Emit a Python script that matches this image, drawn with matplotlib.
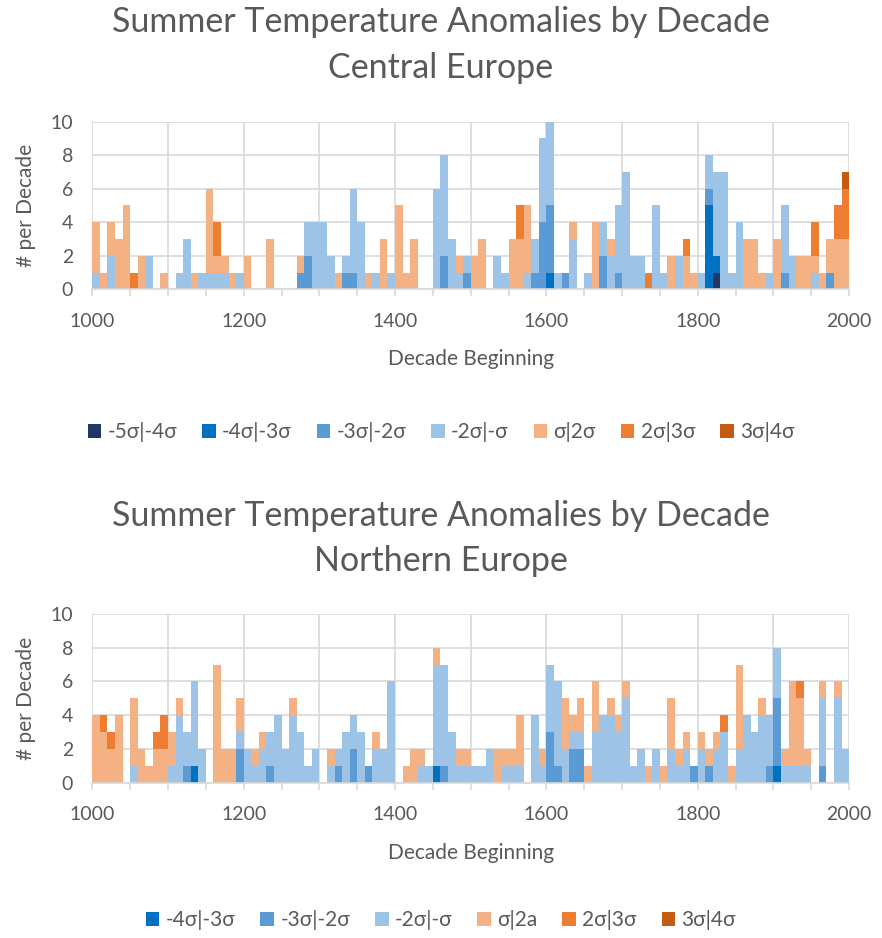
import numpy as np
import matplotlib
matplotlib.use("Agg")
import matplotlib.pyplot as plt
from matplotlib.ticker import MultipleLocator, FuncFormatter

plt.rcParams['font.family'] = ['Lato', 'DejaVu Sans']

decades = np.arange(1000, 2000, 10)

# ---- Central Europe: counts per decade, one row per century ----
c_m5 = [0]*80 + [0,0,1,0,0,0,0,0,0,0] + [0]*10
c_m4 = [0]*60 + [1,0,0,0,0,0,0,0,0,0] + [0]*10 + [0,5,1,0,0,0,0,0,0,0] + [0]*10
c_m3 = ([0]*10 + [0]*10 +
        [0,0,0,0,0,0,0,1,2,0] +
        [0,0,0,1,1,0,0,0,0,0] +
        [0,0,0,0,0,0,2,0,0,1] +
        [0,0,0,0,0,0,0,0,1,4] +
        [4,0,1,0,0,0,0,2,0,1] +
        [0]*10 +
        [0,1,0,0,0,0,0,0,0,0] +
        [0,1,0,0,0,0,0,1,0,0])
c_m2 = ([1,0,2,0,0,0,0,2,0,0] +
        [0,1,3,0,1,1,1,1,0,1] +
        [0,0,0,0,0,0,0,0,2,4] +
        [4,2,0,1,5,4,0,1,0,1] +
        [0,0,0,0,0,6,6,3,1,1] +
        [0,0,0,2,1,0,0,1,2,5] +
        [5,1,0,3,0,1,0,2,2,4] +
        [7,2,2,0,5,1,0,2,0,0] +
        [1,2,5,7,1,4,0,0,0,1] +
        [0,4,2,0,0,1,0,0,0,0])
c_p1 = ([3,1,2,3,5,0,2,0,0,1] +
        [0,0,0,1,0,5,1,1,1,0] +
        [2,0,0,3,0,0,0,1,0,0] +
        [0,0,1,0,0,0,1,0,3,0] +
        [5,1,3,0,0,0,0,0,1,0] +
        [2,3,0,0,0,3,3,4,0,0] +
        [0,0,0,1,0,0,4,0,1,0] +
        [0,0,0,0,0,0,2,0,2,1] +
        [0,0,0,0,0,0,3,3,1,0] +
        [3,0,0,2,2,1,1,2,3,3])
c_p2 = ([0,0,0,0,0,1,0,0,0,0] +
        [0,0,0,0,0,0,2,0,0,0] +
        [0]*30 +
        [0,0,0,0,0,0,2,0,0,0] +
        [0]*10 +
        [0,0,0,1,0,0,0,0,1,0] +
        [0]*10 +
        [0,0,0,0,0,2,0,0,2,3])
c_p3 = [0]*99 + [1]

# ---- Northern Europe ----
n_m4 = ([0]*10 + [0,0,0,1,0,0,0,0,0,0] + [0]*20 +
        [0,0,0,0,0,1,0,0,0,0] + [0]*40 +
        [1,0,0,0,0,0,0,0,0,0])
n_m3 = ([0]*10 +
        [0,0,1,0,0,0,0,0,0,2] +
        [0,0,0,1,0,0,0,0,0,0] +
        [0,0,1,0,2,0,1,0,0,0] +
        [0,0,0,0,0,0,1,0,0,0] +
        [0]*10 +
        [3,1,0,2,2,0,0,0,0,0] +
        [0,0,0,0,0,0,0,0,0,1] +
        [0,1,0,0,0,0,0,0,0,1] +
        [4,0,0,0,0,0,1,0,0,0])
n_m2 = ([0,0,0,0,0,1,0,0,0,0] +
        [1,4,2,5,2,0,0,0,0,1] +
        [2,1,2,2,4,2,4,3,1,2] +
        [0,1,1,3,2,3,0,2,2,6] +
        [0,0,0,1,1,6,6,3,1,1] +
        [1,1,2,0,1,1,1,0,4,1] +
        [4,5,2,1,1,0,3,4,4,3] +
        [5,1,2,0,2,0,2,1,2,0] +
        [2,0,2,3,0,2,4,3,4,3] +
        [3,1,1,1,1,0,4,0,5,2])
n_p1 = ([4,3,2,4,0,4,2,1,2,2] +
        [2,1,0,0,0,0,7,2,2,2] +
        [0,1,1,0,0,0,1,0,0,0] +
        [0,1,0,0,0,0,0,1,0,0] +
        [0,1,2,1,0,1,0,0,1,1] +
        [0,0,0,2,1,1,3,0,0,1] +
        [0,0,3,1,2,1,3,0,1,1] +
        [1,0,0,1,0,1,3,1,1,0] +
        [1,1,1,0,1,5,0,0,1,0] +
        [0,1,5,4,1,0,1,0,1,0])
n_p2 = ([0,1,1,0,0,0,0,0,1,2] + [0]*70 +
        [0,0,0,1,0,0,0,0,0,0] +
        [0,0,0,1,0,0,0,0,0,0])
n_p3 = [0]*100

colors = {
    '-5σ|-4σ': '#1f3864',
    '-4σ|-3σ': '#0070c0',
    '-3σ|-2σ': '#5b9bd5',
    '-2σ|-σ': '#9dc3e6',
    'σ|2σ': '#f4b183',
    'σ|2a': '#f4b183',
    '2σ|3σ': '#ed7d31',
    '3σ|4σ': '#c55a11',
}

central = [('-5σ|-4σ', c_m5), ('-4σ|-3σ', c_m4), ('-3σ|-2σ', c_m3),
           ('-2σ|-σ', c_m2), ('σ|2σ', c_p1), ('2σ|3σ', c_p2), ('3σ|4σ', c_p3)]
northern = [('-4σ|-3σ', n_m4), ('-3σ|-2σ', n_m3), ('-2σ|-σ', n_m2),
            ('σ|2a', n_p1), ('2σ|3σ', n_p2), ('3σ|4σ', n_p3)]

grey = '#595959'
gridc = '#d9d9d9'

fig = plt.figure(figsize=(8.82, 9.38), dpi=100)


def draw(rect, series, title_y, legend_y, region):
    ax = fig.add_axes(rect)
    bottom = np.zeros(len(decades))
    handles = []
    for name, vals in series:
        vals = np.array(vals)
        h = ax.bar(decades, vals, width=10, align='edge', bottom=bottom,
                   color=colors[name], linewidth=0, label=name, zorder=3)
        handles.append(h)
        bottom += vals
    ax.set_xlim(1000, 2000)
    ax.set_ylim(0, 10)
    ax.set_yticks(range(0, 11, 2))
    ax.xaxis.set_major_locator(MultipleLocator(50))
    ax.xaxis.set_major_formatter(FuncFormatter(
        lambda v, p: f'{int(v)}' if int(v) % 200 == 0 else ''))
    for y in range(0, 11, 2):
        ax.axhline(y, color=gridc, lw=1.2, zorder=1)
    for x in range(1000, 2001, 100):
        ax.axvline(x, color=gridc, lw=1.2, zorder=1)
    for s in ['top', 'right', 'left']:
        ax.spines[s].set_visible(False)
    ax.spines['bottom'].set_color(gridc)
    ax.spines['bottom'].set_linewidth(1.2)
    ax.spines['bottom'].set_zorder(4)
    ax.tick_params(axis='x', colors=gridc, labelcolor=grey, labelsize=14,
                   length=5, width=1.2, pad=12)
    ax.tick_params(axis='y', length=0, labelcolor=grey, labelsize=14, pad=14)
    ax.set_xlabel('Decade Beginning', color=grey, fontsize=15, labelpad=14)
    ax.set_ylabel('# per Decade', color=grey, fontsize=15, labelpad=10)
    fig.text(0.5, title_y, 'Summer Temperature Anomalies by Decade\n' + region,
             ha='center', va='center', fontsize=24.5, color=grey, linespacing=1.5)
    fig.legend(handles=handles, loc='center', bbox_to_anchor=(0.5, legend_y),
               ncol=len(handles), frameon=False, fontsize=15,
               handlelength=0.65, handleheight=0.65, handletextpad=0.3,
               columnspacing=1.2, labelcolor=grey)
    return ax


draw([0.1047, 0.6916, 0.8580, 0.1787], central, 1 - 45/938, 1 - 432/938,
     'Central Europe')
draw([0.1047, 0.1656, 0.8580, 0.1798], northern, 1 - 538/938, 1 - 920/938,
     'Northern Europe')

fig.savefig('out.png', dpi=100)
